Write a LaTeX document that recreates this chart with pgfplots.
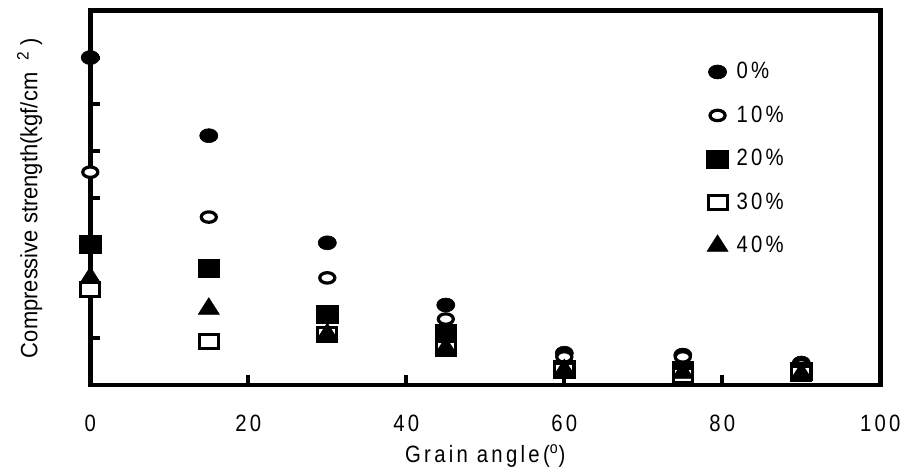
\documentclass[border=0pt]{standalone}
\usepackage{fontspec}
\setmainfont{Liberation Sans}[FakeStretch=0.93]
\newfontfamily\cond{Liberation Sans}[FakeStretch=0.86,LetterSpace=14]
\usepackage{pgfplots}
\pgfplotsset{compat=1.18}
\newcommand\fs{\fontsize{11.8}{14}\selectfont}
\begin{document}
\begin{tikzpicture}
\begin{axis}[
  scale only axis, width=395pt, height=187.1pt,
  xmin=0, xmax=100, ymin=0, ymax=800,
  clip=false,
  xtick={0,20,40,60,80,100}, xticklabels={0,20,40,60,80,100},
  ytick={0,100,...,800}, yticklabels={},
  xtick pos=bottom, ytick pos=left, tick align=inside,
  major tick length=5pt,
  separate axis lines,
  axis line style={line width=2.4pt, line cap=rect},
  tick style={black, line width=2pt},
  xticklabel style={font=\cond\fs, anchor=base, yshift=-23.5pt},
  xlabel={Grain angle(\textsuperscript{o})},
  xlabel style={font=\cond\fs, at={(axis description cs:0.5,-0.2058)}, anchor=base},
  ylabel={Compressive strength(kgf/cm\hspace{6pt}\textsuperscript{2}\hspace{3pt})},
  ylabel style={font=\fs, at={(axis description cs:-0.067,0.5)}, anchor=base, rotate=0},
  legend style={draw=none, fill=none, font=\cond\fs, at={(axis description cs:0.772,0.885)}, anchor=north west, row sep=8pt, column sep=2pt},
  legend cell align=left,
  legend image code/.code={\draw[#1] plot coordinates {(0pt,0pt)};},
]
\addplot[only marks, mark=*, mark size=3.5pt, mark options={xscale=1.3, fill=black, draw=black, line width=0.3pt}]
  coordinates {(0,700) (15,533) (30,304) (45,171) (60,68) (75,64) (90,47)};
\addlegendentry{0\%}
\addplot[only marks, mark=*, mark size=2.6pt, mark options={xscale=1.45, fill=white, draw=black, line width=1.6pt}]
  coordinates {(0,455) (15,359) (30,229) (45,141) (60,60) (75,60) (90,43)};
\addlegendentry{10\%}
\addplot[only marks, mark=square*, mark size=4.5pt, mark options={xscale=1.22, fill=black, draw=black, line width=0.3pt}]
  coordinates {(0,300) (15,250) (30,152) (45,111) (60,34) (75,32) (90,30)};
\addlegendentry{20\%}
\addplot[only marks, mark=square*, mark size=3.5pt, mark options={xscale=1.35, fill=white, draw=black, line width=1.5pt}]
  coordinates {(0,205) (15,94) (30,108) (45,77) (60,30) (75,21) (90,24)};
\addlegendentry{30\%}
\addplot[only marks, mark=triangle*, mark size=5.5pt, mark options={xscale=1.1, fill=black, draw=black, line width=0.3pt}]
  coordinates {(0,229) (15,163) (30,109) (45,79) (60,32) (75,26) (90,24)};
\addlegendentry{40\%}
\coordinate (sw) at (rel axis cs:0,0);
\end{axis}
\pgfresetboundingbox
\path[use as bounding box] (sw) ++(-45.15pt,-45pt) rectangle ++(452.5pt,237.5pt);
\end{tikzpicture}
\end{document}
